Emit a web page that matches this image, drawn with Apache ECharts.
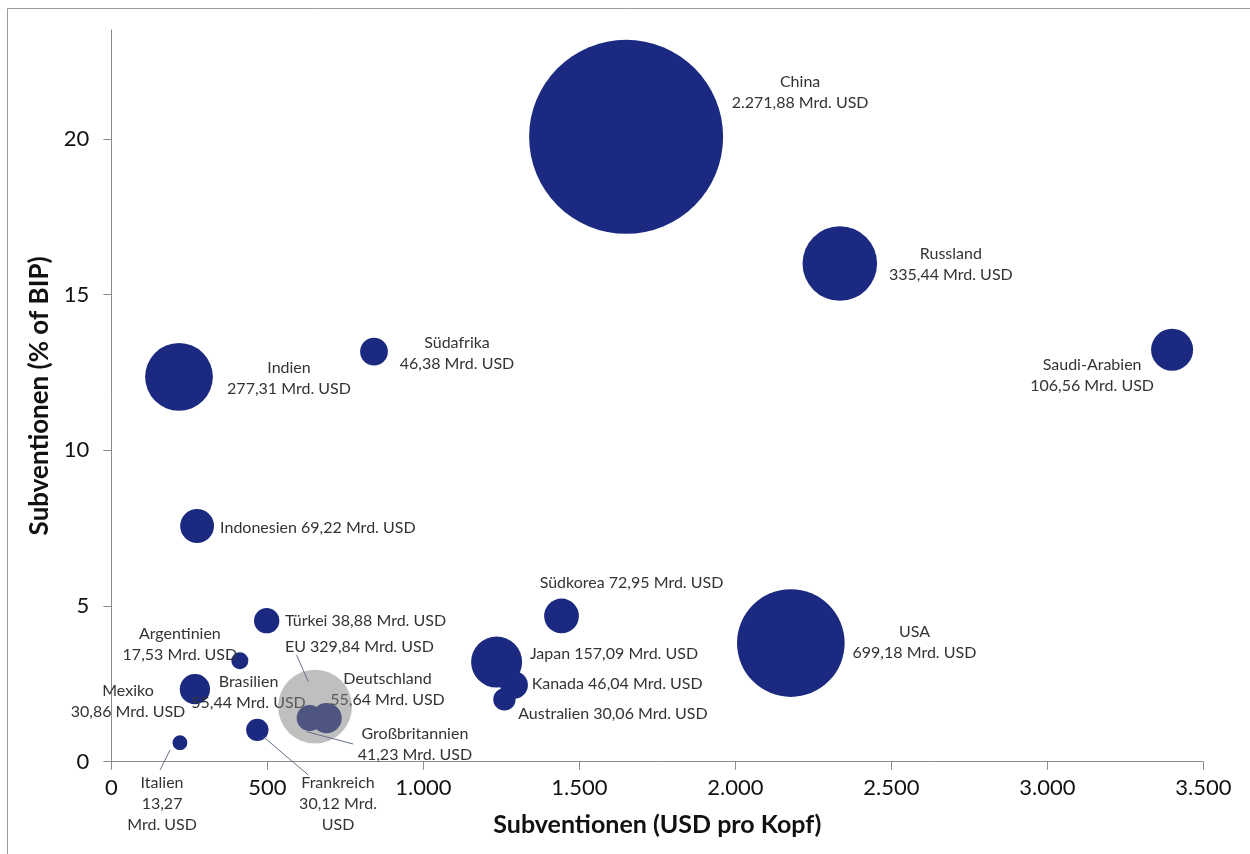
<!DOCTYPE html>
<html>
<head>
<meta charset="utf-8">
<script src="https://cdn.jsdelivr.net/npm/echarts@6/dist/echarts.min.js"></script>
<style>
  html, body { margin: 0; padding: 0; background: #fff; }
  #chart { width: 1250px; height: 854px; }
</style>
</head>
<body>
<div id="chart"></div>
<script>
// Energy subsidies by country: per capita (x), share of GDP (y), total in bn USD (bubble area)
const countries = ['China', 'Russland', 'Saudi-Arabien', 'Südafrika', 'Indien', 'Indonesien',
  'Südkorea', 'USA', 'Japan', 'Kanada', 'Australien', 'Türkei', 'Argentinien', 'Mexiko',
  'Brasilien', 'Frankreich', 'Italien', 'Deutschland', 'Großbritannien'];
const perCapitaUsd = [1650, 2335, 3400, 842, 217, 275, 1443, 2178, 1235, 1291, 1260, 498, 412, 258,
  268, 468, 220, 690, 636];
const shareOfGdp = [20.07, 16.0, 13.23, 13.17, 12.36, 7.57, 4.68, 3.81, 3.2, 2.46, 2.0, 4.53, 3.24, 2.28,
  2.33, 1.02, 0.61, 1.4, 1.4];
const totalBnUsd = [2271.88, 335.44, 106.56, 46.38, 277.31, 69.22, 72.95, 699.18, 157.09, 46.04, 30.06,
  38.88, 17.53, 30.86, 55.44, 30.12, 13.27, 55.64, 41.23];

// European Union aggregate (drawn translucent on top)
const euName = 'EU';
const euPerCapitaUsd = 653;
const euShareOfGdp = 1.77;
const euTotalBnUsd = 329.84;

// Axis ticks
const xTickValues = [0, 500, 1000, 1500, 2000, 2500, 3000, 3500];
const yTickValues = [0, 5, 10, 15, 20];

// ---- presentation ----
const NAVY = '#1b2a80';
const TEXT = '#333333';
const FONT = 'Lato, "Open Sans", sans-serif';
const BUBBLE_K = 4.07; // diameter per sqrt(bn USD), bubble area ~ total

// label placement: template, alignment, pixel offset from bubble centre
const TWO = '%n\n%v Mrd. USD';
const ONE = '%n %v Mrd. USD';
const labelStyle = {
  'China': [TWO, 'center', 174, -44],
  'Russland': [TWO, 'center', 111, 1],
  'Saudi-Arabien': [TWO, 'center', -80, 25.5],
  'Südafrika': [TWO, 'center', 83, 1.7],
  'Indien': [TWO, 'center', 110, 1.4],
  'Indonesien': [ONE, 'left', 23, 2],
  'Südkorea': [ONE, 'center', 70, -33.4],
  'USA': [TWO, 'center', 123.6, -1],
  'Japan': [ONE, 'left', 33.3, -7.8],
  'Kanada': [ONE, 'left', 17.6, -0.8],
  'Australien': [ONE, 'left', 13.8, 14.5],
  'Türkei': [ONE, 'left', 18.3, 0],
  'Argentinien': [TWO, 'center', -60, -16],
  'Mexiko': [TWO, 'center', -63.8, 10.3],
  'Brasilien': [TWO, 'center', 53.6, 3],
  'Frankreich': ['%n\n%v Mrd.\nUSD', 'center', 80.7, 74.1],
  'Italien': ['%n\n%v\nMrd. USD', 'center', -17.9, 60.8],
  'Deutschland': [TWO, 'center', 60.9, -29.1],
  'Großbritannien': [TWO, 'center', 105.2, 26.4],
  'EU': [ONE, 'left', -30.1, -59.9]
};

// leader lines: pixel offsets from bubble centre [x1, y1, x2, y2]
const leaderStyle = {
  'EU': [-18.4, -51.6, -6.8, -24.9],
  'Großbritannien': [-3.1, 13.6, 43.5, 25.9],
  'Frankreich': [6, 6.8, 51, 45.1],
  'Italien': [-9.9, 7.3, -19.9, 27.3]
};

function thousands(s) { return s.replace(/\B(?=(\d{3})+(?!\d))/g, '.'); }
function deNumber(v) {
  const parts = v.toFixed(2).split('.');
  return thousands(parts[0]) + ',' + parts[1];
}

function pointItem(name, x, y, total) {
  const st = labelStyle[name];
  return {
    name: name,
    value: [x, y, total],
    label: {
      show: true,
      position: 'inside',
      align: st[1],
      verticalAlign: 'middle',
      offset: [st[2], st[3]],
      formatter: st[0].replace('%n', name).replace('%v', deNumber(total))
    }
  };
}

const countryData = countries.map((n, i) => pointItem(n, perCapitaUsd[i], shareOfGdp[i], totalBnUsd[i]));
const euData = [pointItem(euName, euPerCapitaUsd, euShareOfGdp, euTotalBnUsd)];

// all points that carry a leader line
const leaderData = [];
countries.forEach((n, i) => { if (leaderStyle[n]) leaderData.push({ name: n, value: [perCapitaUsd[i], shareOfGdp[i]] }); });
leaderData.push({ name: euName, value: [euPerCapitaUsd, euShareOfGdp] });

const labelText = { color: TEXT, fontFamily: FONT, fontSize: 16, lineHeight: 21 };
const axisColor = '#8a8a8a';

const chart = echarts.init(document.getElementById('chart'), null, { renderer: 'canvas' });
chart.setOption({
  animation: false,
  backgroundColor: '#ffffff',
  graphic: [{
    type: 'rect', silent: true, z: -10,
    shape: { x: 7.5, y: 8.5, width: 1300, height: 900 },
    style: { fill: 'none', stroke: '#9a9a9a', lineWidth: 1 }
  }],
  grid: { left: 111.3, right: 46.7, top: 30, bottom: 92.3, containLabel: false },
  xAxis: {
    type: 'value', min: 0, max: 3500, interval: 500,
    name: 'Subventionen (USD pro Kopf)', nameLocation: 'middle', nameGap: 51,
    nameTextStyle: { fontFamily: FONT, fontSize: 25, fontWeight: 'bold', color: '#111' },
    axisLine: { show: true, lineStyle: { color: axisColor, width: 1 } },
    axisTick: { show: true, length: 8, lineStyle: { color: axisColor }, customValues: xTickValues },
    axisLabel: { margin: 15, fontFamily: FONT, fontSize: 22, color: '#111',
      customValues: xTickValues, formatter: v => thousands(String(v)) },
    splitLine: { show: false }
  },
  yAxis: {
    type: 'value', min: 0, max: 23.5, interval: 5,
    name: 'Subventionen (% of BIP)', nameLocation: 'middle', nameGap: 56,
    nameTextStyle: { fontFamily: FONT, fontSize: 26, fontWeight: 'bold', color: '#111' },
    axisLine: { show: true, lineStyle: { color: axisColor, width: 1 } },
    axisTick: { show: true, length: 8, lineStyle: { color: axisColor }, customValues: yTickValues },
    axisLabel: { margin: 22, fontFamily: FONT, fontSize: 22, color: '#111',
      customValues: yTickValues, formatter: v => String(v) },
    splitLine: { show: false }
  },
  series: [
    {
      name: 'Länder', type: 'scatter',
      data: countryData,
      symbolSize: v => BUBBLE_K * Math.sqrt(v[2]),
      itemStyle: { color: NAVY, opacity: 1 },
      label: labelText,
      emphasis: { disabled: true },
      silent: true, z: 2
    },
    {
      name: euName, type: 'scatter',
      data: euData,
      symbolSize: v => BUBBLE_K * Math.sqrt(v[2]),
      itemStyle: { color: 'rgba(128,128,128,0.5)', opacity: 1 },
      label: labelText,
      emphasis: { disabled: true },
      silent: true, z: 3
    },
    {
      name: 'Hinweislinien', type: 'custom', coordinateSystem: 'cartesian2d',
      data: leaderData,
      renderItem: function (params, api) {
        const c = api.coord([api.value(0), api.value(1)]);
        const seg = leaderStyle[leaderData[params.dataIndex].name];
        return {
          type: 'line',
          shape: { x1: c[0] + seg[0], y1: c[1] + seg[1], x2: c[0] + seg[2], y2: c[1] + seg[3] },
          style: { stroke: '#65708c', lineWidth: 1 }
        };
      },
      silent: true, z: 4
    }
  ]
});
</script>
</body>
</html>
